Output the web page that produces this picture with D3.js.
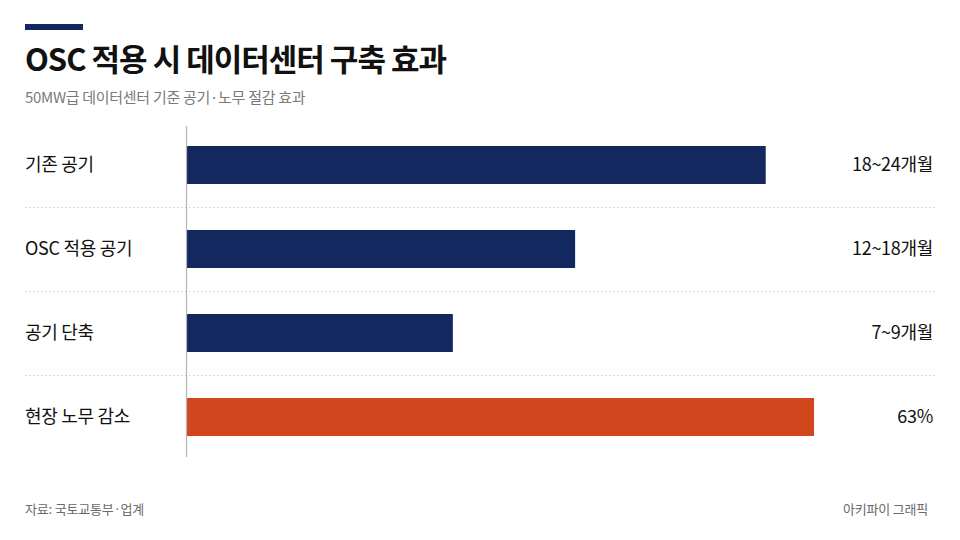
<!DOCTYPE html>
<html>
<head>
<meta charset="utf-8">
<script src="https://cdn.jsdelivr.net/npm/d3@7"></script>
<style>
  html, body { margin: 0; padding: 0; background: #ffffff; }
  svg { display: block; font-family: "Noto Sans CJK KR", "Noto Sans", sans-serif; }
</style>
</head>
<body>
<svg id="chart" width="960" height="540"></svg>
<script>
// ---- data ----
const categories = ["기존 공기", "OSC 적용 공기", "공기 단축", "현장 노무 감소"];
const barIndex = [92.3, 61.9, 42.4, 100];          // relative bar length (index, max = 100)
const valueLabels = ["18~24개월", "12~18개월", "7~9개월", "63%"];
const barColors = ["#13285f", "#13285f", "#13285f", "#d2461e"];
const title = "OSC 적용 시 데이터센터 구축 효과";
const subtitle = "50MW급 데이터센터 기준 공기·노무 절감 효과";
const source = "자료: 국토교통부·업계";
const credit = "아키파이 그래픽";

// ---- layout ----
const W = 960, H = 540;
const svg = d3.select("#chart");
svg.append("rect").attr("width", W).attr("height", H).attr("fill", "#ffffff");

const x0 = 187;
const x = d3.scaleLinear().domain([0, 100]).range([x0, 814]);
const y = d3.scaleBand().domain(categories).range([123, 459]).padding(0);
const barH = 38;

// accent bar
svg.append("rect").attr("x", 25).attr("y", 24).attr("width", 58).attr("height", 6).attr("fill", "#13285f");

// title
svg.append("text").attr("x", 25).attr("y", 71)
  .attr("font-size", 31).attr("font-weight", 700).attr("fill", "#111")
  .attr("letter-spacing", "-1")
  .text(title);

svg.append("text").attr("x", 25).attr("y", 103)
  .attr("font-size", 15).attr("fill", "#7a7a7a")
  .attr("letter-spacing", "-0.3")
  .text(subtitle);

// dotted separators between rows
const seps = categories.slice(1).map(c => y(c));
svg.selectAll("line.sep").data(seps).enter().append("line")
  .attr("class", "sep")
  .attr("x1", 25).attr("x2", 935)
  .attr("y1", d => d + 0.5).attr("y2", d => d + 0.5)
  .attr("stroke", "#cfcfcf").attr("stroke-width", 1)
  .attr("stroke-dasharray", "1.5,2.5");

// bars
svg.selectAll("rect.bar").data(categories).enter().append("rect")
  .attr("class", "bar")
  .attr("x", x(0))
  .attr("y", d => y(d) + (y.bandwidth() - barH) / 2)
  .attr("width", (d, i) => x(barIndex[i]) - x(0))
  .attr("height", barH)
  .attr("fill", (d, i) => barColors[i]);

// baseline axis
svg.append("line")
  .attr("x1", x0 - 0.5).attr("x2", x0 - 0.5)
  .attr("y1", 126).attr("y2", 457)
  .attr("stroke", "#b5b5b5").attr("stroke-width", 1.2);

// category labels
svg.selectAll("text.cat").data(categories).enter().append("text")
  .attr("class", "cat")
  .attr("x", 25)
  .attr("y", d => y(d) + y.bandwidth() / 2)
  .attr("dy", "0.35em")
  .attr("font-size", 18).attr("font-weight", 400).attr("fill", "#111")
  .attr("letter-spacing", "-0.3")
  .text(d => d);

// value labels
svg.selectAll("text.val").data(categories).enter().append("text")
  .attr("class", "val")
  .attr("x", 933)
  .attr("y", d => y(d) + y.bandwidth() / 2)
  .attr("dy", "0.35em")
  .attr("text-anchor", "end")
  .attr("font-size", 18).attr("font-weight", 400).attr("fill", "#111")
  .attr("letter-spacing", "-0.3")
  .text((d, i) => valueLabels[i]);

// footer
svg.append("text").attr("x", 25).attr("y", 514)
  .attr("font-size", 13).attr("fill", "#6a6a6a")
  .attr("letter-spacing", "-0.2")
  .text(source);
svg.append("text").attr("x", 928).attr("y", 514)
  .attr("text-anchor", "end")
  .attr("font-size", 13).attr("fill", "#6a6a6a")
  .attr("letter-spacing", "-0.2")
  .text(credit);
</script>
</body>
</html>
